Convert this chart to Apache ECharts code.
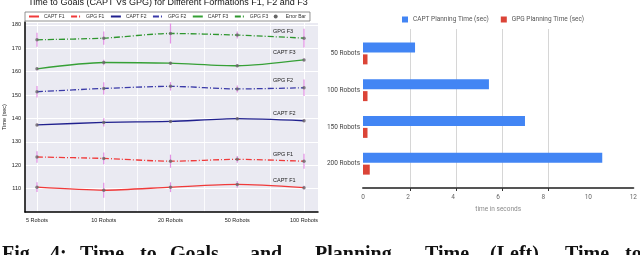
<!DOCTYPE html>
<html><head><meta charset="utf-8">
<script src="https://cdn.jsdelivr.net/npm/echarts@6/dist/echarts.min.js"></script>
<style>html,body{margin:0;padding:0;background:#fff}#c{width:640px;height:255px}</style>
</head><body><div id="c"></div>
<script>
// Left chart data
var categoriesL = ['5 Robots', '10 Robots', '20 Robots', '50 Robots', '100 Robots'];
var yTicksL = [110, 120, 130, 140, 150, 160, 170, 180];
var captF1 = [110.6, 109.3, 110.6, 111.8, 110.4];
var gpgF1  = [123.5, 122.9, 121.7, 122.5, 121.7];
var captF2 = [137.2, 138.3, 138.7, 139.9, 139.0];
var gpgF2  = [151.4, 152.8, 153.7, 152.6, 153.1];
var captF3 = [161.2, 163.9, 163.6, 162.5, 165.0];
var gpgF3  = [173.6, 174.3, 176.3, 175.6, 174.3];
var errCaptF1 = [2.1, 3.2, 2.1, 1.4, 0.8];
var errGpgF1  = [2.5, 2.5, 2.8, 1.4, 3.2];
var errCaptF2 = [0.6, 1.8, 0.6, 0.6, 0.6];
var errGpgF2  = [2.5, 2.6, 1.8, 1.5, 3.5];
var errCaptF3 = [0.6, 1.2, 0.6, 0.6, 0.6];
var errGpgF3  = [3.0, 2.8, 4.3, 1.5, 4.0];

// Right chart data
var categoriesR = ['50 Robots', '100 Robots', '150 Robots', '200 Robots'];
var captPlan = [2.31, 5.59, 7.19, 10.62];
var gpgPlan  = [0.2, 0.2, 0.2, 0.3];
var xTicksR = [0, 2, 4, 6, 8, 10, 12];

var chart = echarts.init(document.getElementById('c'), null, {renderer: 'canvas'});

var lineDefs = [
  {name: 'CAPT F1', data: captF1, err: errCaptF1, color: '#f03a3a', dash: 'solid'},
  {name: 'GPG F1',  data: gpgF1,  err: errGpgF1,  color: '#f03a3a', dash: [6, 2, 1, 2]},
  {name: 'CAPT F2', data: captF2, err: errCaptF2, color: '#20208e', dash: 'solid'},
  {name: 'GPG F2',  data: gpgF2,  err: errGpgF2,  color: '#3a3aa8', dash: [6, 2, 1, 2]},
  {name: 'CAPT F3', data: captF3, err: errCaptF3, color: '#36a036', dash: 'solid'},
  {name: 'GPG F3',  data: gpgF3,  err: errGpgF3,  color: '#2e962e', dash: [6, 2, 1, 2]}
];

var fontL = 'Liberation Sans';
var YMIN = 100, YMAX = 181.2;

var series = [];
var errData = [], dotData = [];
lineDefs.forEach(function (d) {
  series.push({
    type: 'line', name: d.name, xAxisIndex: 1, yAxisIndex: 1,
    data: d.data.map(function (v, i) { return [i, v]; }),
    symbol: 'none', smooth: 0.25, z: 3,
    lineStyle: {color: d.color, width: 1.3, type: d.dash},
    itemStyle: {color: d.color},
    endLabel: {show: true, formatter: '{a}', fontSize: 5.5, fontFamily: fontL, color: '#222', offset: [-39, -7]}
  });
  d.data.forEach(function (v, i) {
    errData.push([i, v, d.err[i]]);
    dotData.push([i, v]);
  });
});

series.push({
  type: 'custom', name: 'Error Bar', xAxisIndex: 1, yAxisIndex: 1, z: 2,
  itemStyle: {color: '#666'},
  data: errData,
  renderItem: function (params, api) {
    var x = api.value(0), y = api.value(1), e = api.value(2);
    var p1 = api.coord([x, y - e]), p2 = api.coord([x, y + e]);
    return {type: 'line', shape: {x1: p1[0], y1: p1[1], x2: p2[0], y2: p2[1]},
      style: {stroke: '#e07fe0', lineWidth: 1.2, opacity: 0.85}};
  }
});
series.push({
  type: 'scatter', name: 'points', xAxisIndex: 1, yAxisIndex: 1, z: 5,
  data: dotData, symbolSize: 3.5, itemStyle: {color: '#6a6a6a'}, silent: true
});

series.push({
  type: 'bar', name: 'CAPT Planning Time (sec)', xAxisIndex: 2, yAxisIndex: 2,
  data: captPlan, barWidth: 10, barGap: '20%', itemStyle: {color: '#4285f4'}
});
series.push({
  type: 'bar', name: 'GPG Planning Time (sec)', xAxisIndex: 2, yAxisIndex: 2,
  data: gpgPlan, barWidth: 10, barGap: '20%', itemStyle: {color: '#db4437'}
});

var captionWords = [
  ['Fig.', 2], ['4:', 50], ['Time', 80], ['to', 140], ['Goals', 170], ['and', 250],
  ['Planning', 315], ['Time', 425], ['(Left)', 490], ['Time', 565], ['to', 625]
];

var lineLegend = lineDefs.map(function (d) {
  return {name: d.name, itemStyle: {opacity: 0}};
});
lineLegend.push({name: 'Error Bar', icon: 'circle', itemStyle: {color: '#666', opacity: 1}});

var option = {
  animation: false,
  backgroundColor: '#fff',
  grid: [
    {left: 25, top: 22, width: 293, height: 190, show: true, backgroundColor: '#eaeaf2', borderWidth: 0},
    {left: 37, top: 22, width: 267, height: 190},
    {left: 363, top: 35, width: 277, height: 147},
    {left: 410, top: 29, width: 138, height: 159}
  ],
  xAxis: [
    {gridIndex: 0, type: 'value', min: 0, max: 1, axisLabel: {show: false}, axisTick: {show: false},
      splitLine: {show: false}, axisLine: {show: true, lineStyle: {color: '#000', width: 1.5}}},
    {gridIndex: 1, type: 'value', min: 0, max: 4, interval: 1,
      axisLine: {show: false}, axisTick: {show: false},
      minorTick: {show: false, splitNumber: 2},
      splitLine: {show: true, lineStyle: {color: '#fff', width: 1}},
      minorSplitLine: {show: true, lineStyle: {color: '#fff', width: 1, opacity: 0.8}},
      axisLabel: {fontSize: 5.5, fontFamily: fontL, color: '#222', margin: 5,
        formatter: function (v) { return categoriesL[v] !== undefined ? categoriesL[v] : ''; }}},
    {gridIndex: 2, type: 'value', min: 0, max: 12, interval: 2, offset: 6,
      axisLine: {show: true, lineStyle: {color: '#555', width: 2}}, axisTick: {show: false},
      splitLine: {show: false},
      axisLabel: {fontSize: 6.5, fontFamily: 'Roboto', color: '#666', margin: 6},
      name: 'time in seconds', nameLocation: 'middle', nameGap: 14,
      nameTextStyle: {fontSize: 6.5, fontFamily: 'Roboto', color: '#8a8a8a'}},
    {gridIndex: 3, type: 'value', min: 2, max: 8, interval: 2,
      axisLine: {show: false}, axisLabel: {show: false},
      axisTick: {show: true, length: 3, lineStyle: {color: '#333', width: 1}},
      splitLine: {show: true, lineStyle: {color: '#d6d6d6', width: 1}}}
  ],
  yAxis: [
    {gridIndex: 0, type: 'value', min: YMIN, max: YMAX, interval: 10,
      axisLine: {show: true, lineStyle: {color: '#000', width: 1.5}}, axisTick: {show: false},
      splitLine: {show: true, lineStyle: {color: '#fff', width: 1}},
      axisLabel: {fontSize: 5.5, fontFamily: fontL, color: '#222', margin: 4, showMaxLabel: false, showMinLabel: false,
        formatter: function (v) { return yTicksL.indexOf(v) >= 0 ? String(v) : ''; }},
      name: 'Time (sec)', nameLocation: 'middle', nameGap: 17,
      nameTextStyle: {fontSize: 5.5, fontFamily: fontL, color: '#222'}},
    {gridIndex: 1, type: 'value', min: YMIN, max: YMAX, show: false},
    {gridIndex: 2, type: 'category', data: categoriesR, inverse: true,
      axisLine: {show: false}, axisTick: {show: false},
      axisLabel: {fontSize: 6.5, fontFamily: 'Roboto', color: '#444', margin: 3}},
    {gridIndex: 3, type: 'value', min: 0, max: 1, show: false}
  ],
  legend: [
    {data: lineLegend,
      left: 25, top: 12, itemWidth: 10, itemHeight: 4, itemGap: 5.5,
      backgroundColor: '#fff', borderColor: '#777', borderWidth: 0.8, padding: [2, 4, 2, 3],
      textStyle: {fontSize: 5, fontFamily: fontL, color: '#333'}, selectedMode: false},
    {data: ['CAPT Planning Time (sec)', 'GPG Planning Time (sec)'],
      left: 397, top: 11, icon: 'rect', itemWidth: 6, itemHeight: 6, itemGap: 12,
      textStyle: {fontSize: 6.5, fontFamily: 'Roboto', color: '#555'}, selectedMode: false}
  ],
  graphic: [
    {type: 'text', x: 168, y: 3, style: {text: 'Time to Goals (CAPT Vs GPG) for Different Formations F1, F2 and F3',
      fontSize: 9, fontFamily: fontL, fill: '#111', textAlign: 'center', textVerticalAlign: 'middle'}}
  ].concat(captionWords.map(function (w) {
    return {type: 'text', x: w[1], y: 245, style: {text: w[0], fontSize: 20, fontWeight: 'bold',
      fontFamily: 'Liberation Serif', fill: '#111', textVerticalAlign: 'top'}};
  })),
  series: series
};
chart.setOption(option);
</script></body></html>
